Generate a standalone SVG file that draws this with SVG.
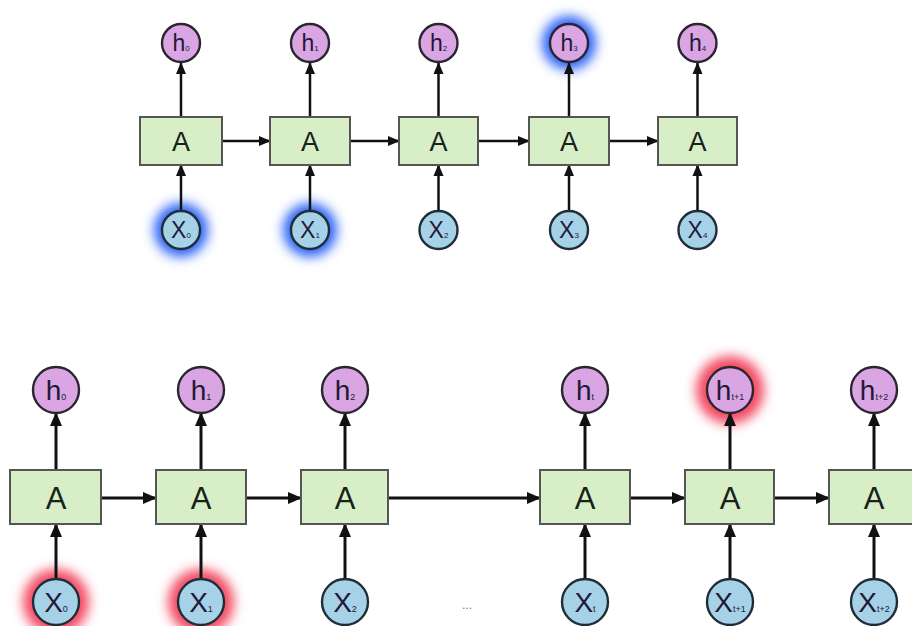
<svg xmlns="http://www.w3.org/2000/svg" width="912" height="626" viewBox="0 0 912 626">
<defs>
<style>
.box{fill:#d7eec6;stroke:#555;stroke-width:2}
.hc{fill:#d9a5e2;stroke:#2a2530;stroke-width:2.4}
.xc{fill:#a6d2e8;stroke:#1f2d38;stroke-width:2.4}
.lbl{font-family:"Liberation Sans",Arial,sans-serif;fill:#16221a;text-anchor:middle}
.nl{font-family:"Liberation Sans",Arial,sans-serif;fill:#241838;text-anchor:middle}
.ar{stroke:#111;stroke-width:2.5;fill:none;marker-end:url(#ah)}
.ar2{stroke:#111;stroke-width:3;fill:none;marker-end:url(#ah2)}
.gb{fill:#2a62f5}
.gr{fill:#f24a62}
</style>
<marker id="ah" markerUnits="userSpaceOnUse" markerWidth="12" markerHeight="12" viewBox="0 0 12 12" refX="11" refY="6" orient="auto"><path d="M0,1 L12,6 L0,11 Z" fill="#111"/></marker>
<marker id="ah2" markerUnits="userSpaceOnUse" markerWidth="14" markerHeight="14" viewBox="0 0 14 14" refX="13" refY="7" orient="auto"><path d="M0,1 L14,7 L0,13 Z" fill="#111"/></marker>
<filter id="glow" x="-60%" y="-60%" width="220%" height="220%"><feGaussianBlur stdDeviation="6"/></filter>
</defs>
<rect width="912" height="626" fill="#ffffff"/>

<!-- glows -->
<g id="glows" filter="url(#glow)">
<circle class="gb" cx="181" cy="230" r="27"/>
<circle class="gb" cx="310" cy="230" r="27"/>
<circle class="gb" cx="569" cy="43" r="27"/>
<circle class="gr" cx="56" cy="602" r="33"/>
<circle class="gr" cx="201" cy="602" r="33"/>
<circle class="gr" cx="730" cy="390" r="34"/>
</g>

<!-- connectors -->
<g id="connectors">
<line class="ar" x1="181" y1="117" x2="181" y2="63"/>
<line class="ar" x1="310" y1="117" x2="310" y2="63"/>
<line class="ar" x1="438.5" y1="117" x2="438.5" y2="63"/>
<line class="ar" x1="569" y1="117" x2="569" y2="63"/>
<line class="ar" x1="697.5" y1="117" x2="697.5" y2="63"/>
<line class="ar" x1="181" y1="211" x2="181" y2="165"/>
<line class="ar" x1="310" y1="211" x2="310" y2="165"/>
<line class="ar" x1="438.5" y1="211" x2="438.5" y2="165"/>
<line class="ar" x1="569" y1="211" x2="569" y2="165"/>
<line class="ar" x1="697.5" y1="211" x2="697.5" y2="165"/>
<line class="ar" x1="222" y1="141" x2="270" y2="141"/>
<line class="ar" x1="350" y1="141" x2="399" y2="141"/>
<line class="ar" x1="478" y1="141" x2="529" y2="141"/>
<line class="ar" x1="609" y1="141" x2="658" y2="141"/>
<line class="ar2" x1="56" y1="470" x2="56" y2="413"/>
<line class="ar2" x1="201" y1="470" x2="201" y2="413"/>
<line class="ar2" x1="345" y1="470" x2="345" y2="413"/>
<line class="ar2" x1="585" y1="470" x2="585" y2="413"/>
<line class="ar2" x1="730" y1="470" x2="730" y2="413"/>
<line class="ar2" x1="874" y1="470" x2="874" y2="413"/>
<line class="ar2" x1="56" y1="579" x2="56" y2="524"/>
<line class="ar2" x1="201" y1="579" x2="201" y2="524"/>
<line class="ar2" x1="345" y1="579" x2="345" y2="524"/>
<line class="ar2" x1="585" y1="579" x2="585" y2="524"/>
<line class="ar2" x1="730" y1="579" x2="730" y2="524"/>
<line class="ar2" x1="874" y1="579" x2="874" y2="524"/>
<line class="ar2" x1="101" y1="498" x2="156" y2="498"/>
<line class="ar2" x1="246" y1="498" x2="301" y2="498"/>
<line class="ar2" x1="388" y1="498" x2="540" y2="498"/>
<line class="ar2" x1="630" y1="498" x2="685" y2="498"/>
<line class="ar2" x1="774" y1="498" x2="829" y2="498"/>
</g>

<!-- top row nodes -->
<g id="top-A0"><rect class="box" x="140" y="117" width="82" height="48"/><text class="lbl" x="181" y="151" font-size="27">A</text></g>
<g id="top-A1"><rect class="box" x="270" y="117" width="80" height="48"/><text class="lbl" x="310" y="151" font-size="27">A</text></g>
<g id="top-A2"><rect class="box" x="399" y="117" width="79" height="48"/><text class="lbl" x="438.5" y="151" font-size="27">A</text></g>
<g id="top-A3"><rect class="box" x="529" y="117" width="80" height="48"/><text class="lbl" x="569" y="151" font-size="27">A</text></g>
<g id="top-A4"><rect class="box" x="658" y="117" width="79" height="48"/><text class="lbl" x="697.5" y="151" font-size="27">A</text></g>

<g id="top-h0"><circle class="hc" cx="181" cy="43" r="19"/><text class="nl" x="181" y="51" font-size="23">h<tspan font-size="8">0</tspan></text></g>
<g id="top-h1"><circle class="hc" cx="310" cy="43" r="19"/><text class="nl" x="310" y="51" font-size="23">h<tspan font-size="8">1</tspan></text></g>
<g id="top-h2"><circle class="hc" cx="438.5" cy="43" r="19"/><text class="nl" x="438.5" y="51" font-size="23">h<tspan font-size="8">2</tspan></text></g>
<g id="top-h3"><circle class="hc" cx="569" cy="43" r="19"/><text class="nl" x="569" y="51" font-size="23">h<tspan font-size="8">3</tspan></text></g>
<g id="top-h4"><circle class="hc" cx="697.5" cy="43" r="19"/><text class="nl" x="697.5" y="51" font-size="23">h<tspan font-size="8">4</tspan></text></g>

<g id="top-x0"><circle class="xc" cx="181" cy="230" r="19"/><text class="nl" x="181" y="238" font-size="23">X<tspan font-size="8">0</tspan></text></g>
<g id="top-x1"><circle class="xc" cx="310" cy="230" r="19"/><text class="nl" x="310" y="238" font-size="23">X<tspan font-size="8">1</tspan></text></g>
<g id="top-x2"><circle class="xc" cx="438.5" cy="230" r="19"/><text class="nl" x="438.5" y="238" font-size="23">X<tspan font-size="8">2</tspan></text></g>
<g id="top-x3"><circle class="xc" cx="569" cy="230" r="19"/><text class="nl" x="569" y="238" font-size="23">X<tspan font-size="8">3</tspan></text></g>
<g id="top-x4"><circle class="xc" cx="697.5" cy="230" r="19"/><text class="nl" x="697.5" y="238" font-size="23">X<tspan font-size="8">4</tspan></text></g>

<!-- bottom row nodes -->
<g id="bot-A0"><rect class="box" x="10" y="470" width="91" height="54"/><text class="lbl" x="56" y="509" font-size="31">A</text></g>
<g id="bot-A1"><rect class="box" x="156" y="470" width="90" height="54"/><text class="lbl" x="201" y="509" font-size="31">A</text></g>
<g id="bot-A2"><rect class="box" x="301" y="470" width="87" height="54"/><text class="lbl" x="345" y="509" font-size="31">A</text></g>
<g id="bot-At"><rect class="box" x="540" y="470" width="90" height="54"/><text class="lbl" x="585" y="509" font-size="31">A</text></g>
<g id="bot-At1"><rect class="box" x="685" y="470" width="89" height="54"/><text class="lbl" x="730" y="509" font-size="31">A</text></g>
<g id="bot-At2"><rect class="box" x="829" y="470" width="92" height="54"/><text class="lbl" x="874" y="509" font-size="31">A</text></g>

<g id="bot-h0"><circle class="hc" cx="56" cy="390" r="23"/><text class="nl" x="56" y="400" font-size="28">h<tspan font-size="9">0</tspan></text></g>
<g id="bot-h1"><circle class="hc" cx="201" cy="390" r="23"/><text class="nl" x="201" y="400" font-size="28">h<tspan font-size="9">1</tspan></text></g>
<g id="bot-h2"><circle class="hc" cx="345" cy="390" r="23"/><text class="nl" x="345" y="400" font-size="28">h<tspan font-size="9">2</tspan></text></g>
<g id="bot-ht"><circle class="hc" cx="585" cy="390" r="23"/><text class="nl" x="585" y="400" font-size="28">h<tspan font-size="9">t</tspan></text></g>
<g id="bot-ht1"><circle class="hc" cx="730" cy="390" r="23"/><text class="nl" x="730" y="400" font-size="28">h<tspan font-size="9">t+1</tspan></text></g>
<g id="bot-ht2"><circle class="hc" cx="874" cy="390" r="23"/><text class="nl" x="874" y="400" font-size="28">h<tspan font-size="9">t+2</tspan></text></g>

<g id="bot-x0"><circle class="xc" cx="56" cy="602" r="23"/><text class="nl" x="56" y="612" font-size="28">X<tspan font-size="9">0</tspan></text></g>
<g id="bot-x1"><circle class="xc" cx="201" cy="602" r="23"/><text class="nl" x="201" y="612" font-size="28">X<tspan font-size="9">1</tspan></text></g>
<g id="bot-x2"><circle class="xc" cx="345" cy="602" r="23"/><text class="nl" x="345" y="612" font-size="28">X<tspan font-size="9">2</tspan></text></g>
<g id="bot-xt"><circle class="xc" cx="585" cy="602" r="23"/><text class="nl" x="585" y="612" font-size="28">X<tspan font-size="9">t</tspan></text></g>
<g id="bot-xt1"><circle class="xc" cx="730" cy="602" r="23"/><text class="nl" x="730" y="612" font-size="28">X<tspan font-size="9">t+1</tspan></text></g>
<g id="bot-xt2"><circle class="xc" cx="874" cy="602" r="23"/><text class="nl" x="874" y="612" font-size="28">X<tspan font-size="9">t+2</tspan></text></g>

<text id="dots" x="467" y="609" font-family="Liberation Sans, Arial, sans-serif" font-size="12" fill="#777" text-anchor="middle">...</text>
</svg>
